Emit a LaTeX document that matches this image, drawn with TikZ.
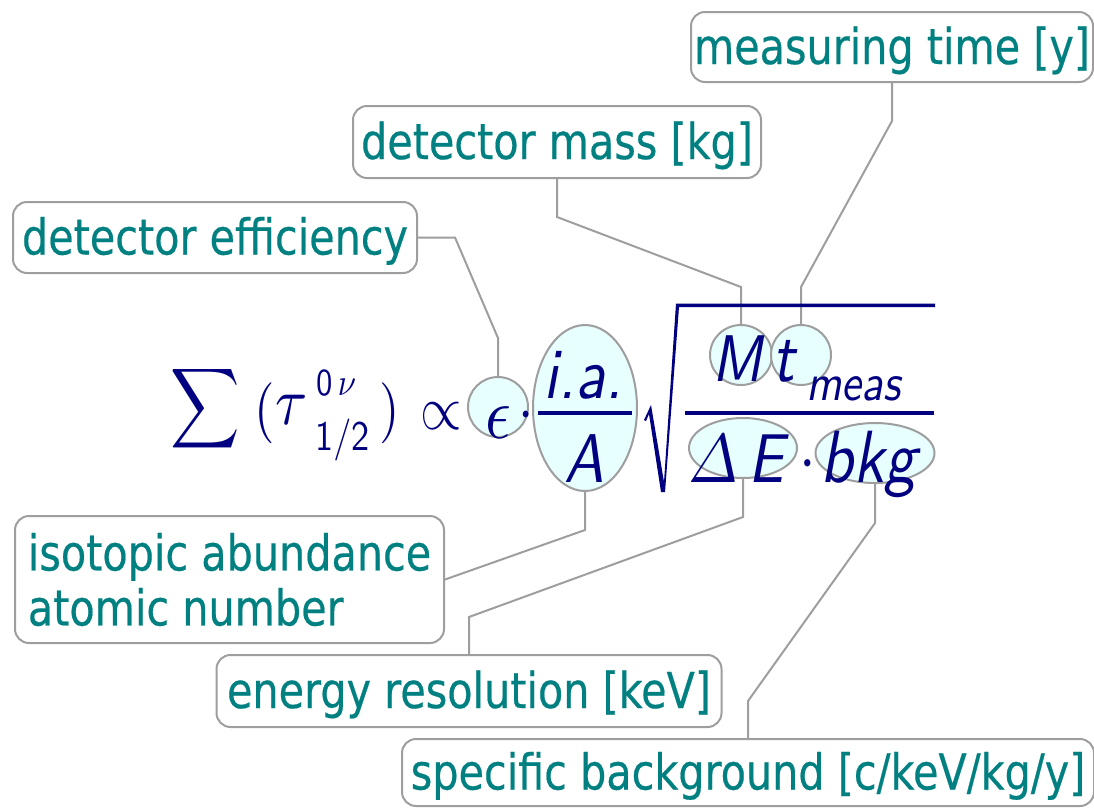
\documentclass[tikz,border=0pt]{standalone}
\usepackage{fontspec}
\usetikzlibrary{shapes.geometric}
\newfontfamily\labfont[FakeStretch=0.835,FakeBold=0.4]{DejaVu Sans}
% #1 = target em size in px, #2 = content typeset at 10pt
\newcommand\sqm[2]{\scalebox{\fpeval{0.086*#1}}[\fpeval{0.1*#1}]{\fontsize{10}{12}\selectfont #2}}
\definecolor{tealtxt}{RGB}{0,128,128}
\definecolor{navyf}{RGB}{0,0,128}
\definecolor{linegray}{RGB}{158,158,158}
\definecolor{bubble}{RGB}{232,255,255}
\begin{document}
\begin{tikzpicture}[x=1pt,y=-1pt,
  lab/.style={draw=linegray, line width=2pt, rounded corners=14pt, fill=white,
    text=tealtxt, font=\labfont\fontsize{49.5}{55}\selectfont, inner sep=0pt, align=left},
  oneline/.style={text height=46pt, text depth=12pt},
  bub/.style={ellipse, draw=linegray, line width=2pt, fill=bubble, inner sep=0pt},
  conn/.style={draw=linegray, line width=2pt},
  fm/.style={text=navyf, inner sep=0pt},
  rule/.style={draw=navyf, line width=3.5pt},
]
\useasboundingbox (0,0) rectangle (1094,807);

% label boxes
\node[lab, oneline, minimum width=402pt, minimum height=70pt] (meas) at (892,47) {measuring time [y]};
\node[lab, oneline, minimum width=408pt, minimum height=72pt] (mass) at (557,142) {detector mass [kg]};
\node[lab, oneline, minimum width=404pt, minimum height=71pt] (eff) at (215,237.5) {detector efficiency};
\node[lab, minimum width=429pt, minimum height=127pt] (iso) at (229.5,579.5) {isotopic abundance\\atomic number};
\node[lab, oneline, minimum width=505pt, minimum height=72pt] (energy) at (469,691) {energy resolution [keV]};
\node[lab, oneline, minimum width=692pt, minimum height=67pt] (spec) at (748,772.5) {specific background [c/keV/kg/y]};

% bubbles (positions)
\coordinate (epsc) at (498,407);
\coordinate (fracc) at (585,408);
\coordinate (Mc) at (741,355);
\coordinate (tc) at (801,355);
\coordinate (dEc) at (743,448);
\coordinate (bkgc) at (875,453);

% bend points of connectors
\coordinate (e1) at (498,338);  \coordinate (e2) at (455,237.5);
\coordinate (m1) at (741,287);  \coordinate (m2) at (557,217);
\coordinate (t1) at (801,287);  \coordinate (t2) at (892,121);
\coordinate (f1) at (585,530);
\coordinate (d1) at (743,517);  \coordinate (d2) at (469,617);
\coordinate (b1) at (875,523);  \coordinate (b2) at (748,701);

% connectors
\draw[conn] (epsc) -- (e1) -- (e2) -- (eff.east);
\draw[conn] (Mc) -- (m1) -- (m2) -- (mass.south);
\draw[conn] (tc) -- (t1) -- (t2) -- (meas.south);
\draw[conn] (fracc) -- (f1) -- (iso.east);
\draw[conn] (dEc) -- (d1) -- (d2) -- (energy.north);
\draw[conn] (bkgc) -- (b1) -- (b2) -- (spec.north);

% bubbles
\node[bub, minimum width=60pt, minimum height=60pt] (epsb) at (epsc) {};
\node[bub, minimum width=104pt, minimum height=166pt] (fracb) at (fracc) {};
\node[bub, minimum width=62pt, minimum height=60pt] (Mb) at (Mc) {};
\node[bub, minimum width=60pt, minimum height=60pt] (tb) at (tc) {};
\node[bub, minimum width=108pt, minimum height=60pt] (dEb) at (dEc) {};
\node[bub, minimum width=119pt, minimum height=60pt] (bkgb) at (bkgc) {};

% formula, left part
\node[fm] (sum) at (205,409) {\sqm{56}{$\displaystyle\sum$}};
\node[fm, anchor=base] (lp) at (265,428) {\sqm{61}{$($}};
\node[fm, anchor=base west] (tau) at (275,424) {\sqm{68}{$\tau$}};
\node[fm, anchor=base west] (sup) at (316,395) {\sqm{38}{$\mathsf{0}\,\nu$}};
\node[fm, anchor=base west] (sub) at (315,450) {\sqm{42}{$\mathsf{1/2}$}};
\node[fm, anchor=base] (rp) at (390,428) {\sqm{61}{$)$}};
\node[fm] (prop) at (441,416) {\sqm{62}{$\propto$}};
\node[fm, anchor=base] (eps) at (498,438) {\sqm{74}{$\epsilon$}};
\node[fm, anchor=base] (dot1) at (526,430) {\sqm{64}{$\cdot$}};

% fraction i.a./A
\node[fm, anchor=base] (ia) at (583,398) {\sqm{72}{\sffamily\slshape i.a.}};
\draw[rule] (538,413) -- (632,413);
\node[fm, anchor=base] (A) at (584,482) {\sqm{69}{\sffamily\slshape A}};

% radical
\fill[navyf] (644,420) -- (651,405) -- (664,482) -- (676,303.5) -- (935,303.5)
  -- (935,307) -- (679,307) -- (665,492) -- (661,492) -- (649,414) -- (646,421) -- cycle;

% numerator
\node[fm, anchor=base west] (M) at (712,381) {\sqm{66}{\sffamily\slshape M}};
\node[fm, anchor=base west] (t) at (772,381) {\sqm{72}{\sffamily\slshape t}};
\node[fm, anchor=base west] (msub) at (806,400) {\sqm{52}{\sffamily\slshape meas}};
\draw[rule] (685,413) -- (934,413);

% denominator
\node[fm, anchor=base west] (Delta) at (688,482) {\sqm{69}{$\mathnormal{\Delta}$}};
\node[fm, anchor=base west] (E) at (748,482) {\sqm{69}{\sffamily\slshape E}};
\node[fm, anchor=base] (dot2) at (808,480) {\sqm{69}{$\cdot$}};
\node[fm, anchor=base west] (bkg) at (820,482) {\sqm{74}{\sffamily\slshape bkg}};
\end{tikzpicture}
\end{document}
